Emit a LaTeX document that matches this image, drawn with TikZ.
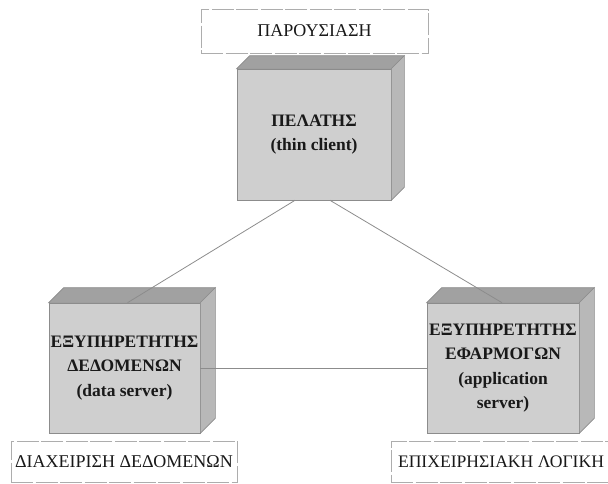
\documentclass[tikz,border=0pt]{standalone}
\usepackage{fontspec}
\setmainfont{Liberation Serif}
\begin{document}
\begin{tikzpicture}[x=1pt,y=-1pt,
  front/.style={draw=black!45, line width=0.6pt, fill=black!19, align=center,
    font=\fontsize{17.5}{24.5}\selectfont\bfseries, text=black!90, inner sep=0pt},
  topface/.style={draw=black!45, line width=0.6pt, fill=black!37},
  sideface/.style={draw=black!45, line width=0.6pt, fill=black!28},
  tierlabel/.style={draw=black!32, line width=1pt, dash pattern=on 22pt off 2.5pt,
    fill=white, font=\fontsize{18}{20}\selectfont, text=black!90, inner sep=0pt},
  link/.style={draw=black!45, line width=0.8pt}]
  \useasboundingbox (0,0) rectangle (608,483);
  \clip (0,0) rectangle (608,483);

  % tier labels
  \node[tierlabel, minimum width=227pt, minimum height=44pt] (lpres) at (314.5,31) {ΠΑΡΟΥΣΙΑΣΗ};
  \node[tierlabel, minimum width=226pt, minimum height=41pt] (ldata) at (124,461.5) {ΔΙΑΧΕΙΡΙΣΗ ΔΕΔΟΜΕΝΩΝ};
  \node[tierlabel, minimum width=220pt, minimum height=41pt] (llogic) at (501,461.5)
    {\fontsize{17.6}{20}\selectfont ΕΠΙΧΕΙΡΗΣΙΑΚΗ ΛΟΓΙΚΗ};

  % front faces of the three machines
  \node[front, minimum width=154pt, minimum height=131pt] (client) at (314,134.5)
    {ΠΕΛΑΤΗΣ\\(thin client)};
  \node[front, minimum width=151pt, minimum height=130pt] (dsrv) at (124.5,368)
    {ΕΞΥΠΗΡΕΤΗΤΗΣ\\ΔΕΔΟΜΕΝΩΝ\\(data server)};
  \node[front, minimum width=152pt, minimum height=130pt] (asrv) at (503,368)
    {ΕΞΥΠΗΡΕΤΗΤΗΣ\\ΕΦΑΡΜΟΓΩΝ\\(application\\server)};

  % top and side faces giving depth
  \foreach \n/\d in {client/13, dsrv/15, asrv/15}{
    \draw[topface] (\n.north west) -- ([xshift=\d pt,yshift=\d pt]\n.north west)
      -- ([xshift=\d pt,yshift=\d pt]\n.north east) -- (\n.north east) -- cycle;
    \draw[sideface] (\n.north east) -- ([xshift=\d pt,yshift=\d pt]\n.north east)
      -- ([xshift=\d pt,yshift=\d pt]\n.south east) -- (\n.south east) -- cycle;
  }

  % connections
  \draw[link] ([xshift=-19pt]client.south) -- ([xshift=3pt]dsrv.north);
  \draw[link] ([xshift=16pt]client.south) -- ([xshift=-1pt]asrv.north);
  \draw[link] (dsrv.east) -- (asrv.west);
\end{tikzpicture}
\end{document}
